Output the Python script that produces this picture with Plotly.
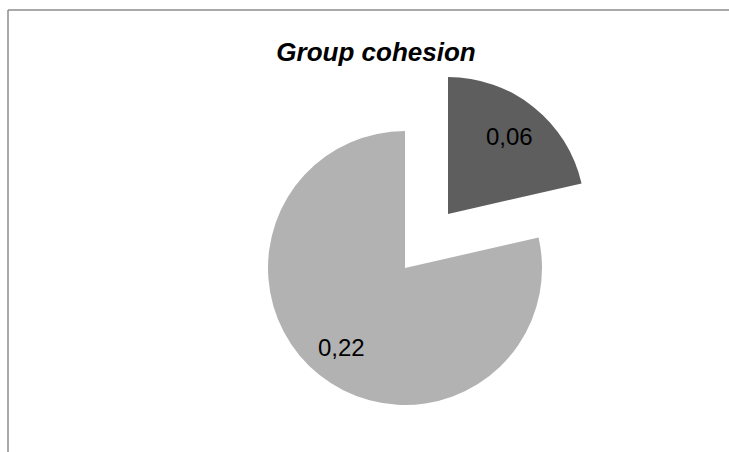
import math
import plotly.graph_objects as go

# Data
categories = ["A", "B"]
values = [0.06, 0.22]
colors = ["#5e5e5e", "#b2b2b2"]
title_text = "Group cohesion"
labels_text = [f"{v:.2f}".replace(".", ",") for v in values]

W, H = 729, 452
TRANSPARENT = "rgba(0,0,0,0)"
FONT = "Liberation Sans, Arial, sans-serif"


def px_x(p):
    return p / W


def px_y(p):
    return 1 - p / H


# pie geometry (pixels): centre and radius of the main pie, explode offset
R = 137
main_c = (405, 268)
expl_c = (448, 214)
centres = [expl_c, main_c]

fig = go.Figure()
for i, c in enumerate(centres):
    cols = [colors[j] if j == i else TRANSPARENT for j in range(len(values))]
    fig.add_trace(go.Pie(
        labels=categories, values=values, sort=False, direction="clockwise", rotation=0,
        marker=dict(colors=cols, line=dict(width=0)),
        textinfo="none", hoverinfo="skip", showlegend=False,
        domain=dict(x=[px_x(c[0] - R), px_x(c[0] + R)],
                    y=[px_y(c[1] + R), px_y(c[1] - R)]),
    ))

# data labels placed along each slice's mid-angle
total = sum(values)
radial = [0.72, 0.74]
annotations = []
cum = 0.0
for i, v in enumerate(values):
    mid = (cum + v / 2) / total * 2 * math.pi
    cum += v
    cx, cy = centres[i]
    lx = cx + radial[i] * R * math.sin(mid)
    ly = cy - radial[i] * R * math.cos(mid)
    annotations.append(dict(
        text=labels_text[i], x=px_x(lx), y=px_y(ly), xref="paper", yref="paper",
        showarrow=False, xanchor="center", yanchor="middle",
        font=dict(family=FONT, size=24, color="#000000"),
    ))

fig.update_layout(
    width=W, height=H,
    margin=dict(l=0, r=0, t=0, b=0),
    paper_bgcolor="white", plot_bgcolor="white",
    title=dict(text=f"<b><i>{title_text}</i></b>", x=376 / W, xanchor="center",
               y=1 - 52 / H, yanchor="middle",
               font=dict(family=FONT, size=26, color="#000000")),
    annotations=annotations,
    shapes=[
        dict(type="line", xref="paper", yref="paper", x0=px_x(8), x1=1.0,
             y0=px_y(10), y1=px_y(10), line=dict(color="#8c8c8c", width=1.5)),
        dict(type="line", xref="paper", yref="paper", x0=px_x(8), x1=px_x(8),
             y0=0, y1=px_y(10), line=dict(color="#8c8c8c", width=1.5)),
    ],
)

fig.write_html("out.html", config={"displayModeBar": False},
               post_script="document.body.style.margin='0';document.body.style.overflow='hidden';")
